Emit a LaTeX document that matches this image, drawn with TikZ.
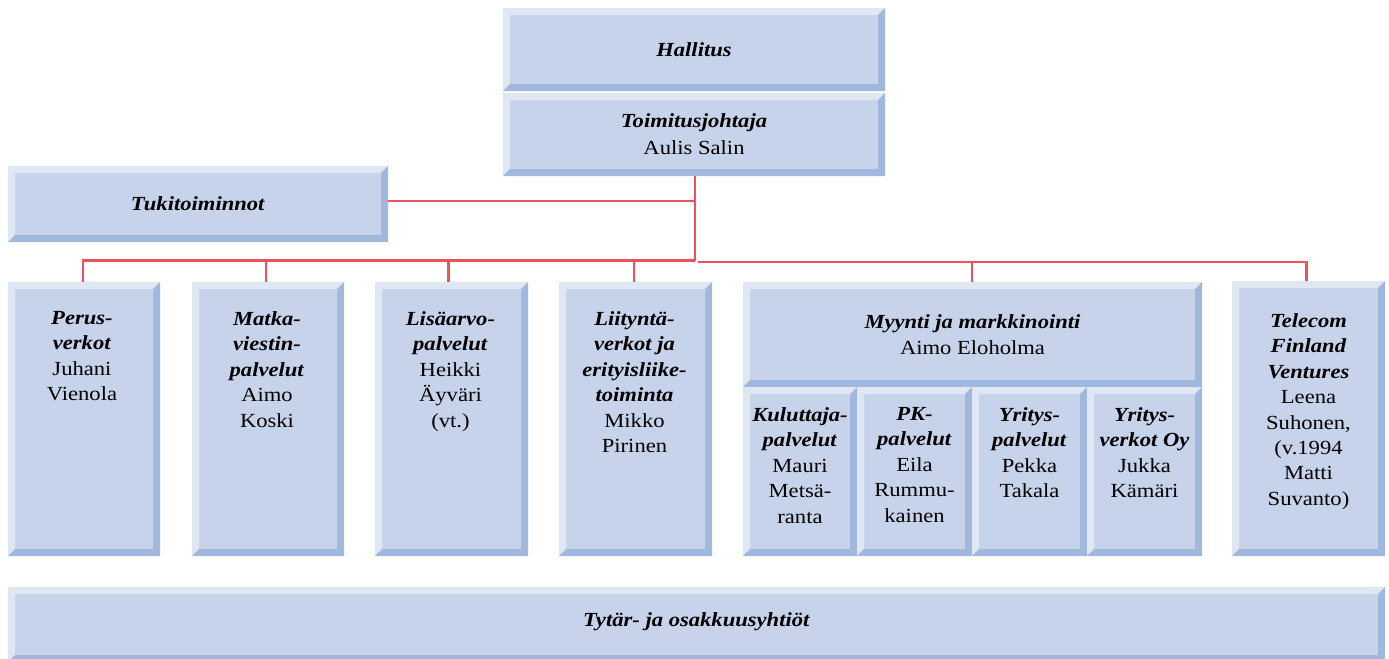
\documentclass[tikz,border=0pt]{standalone}
\usepackage{fontspec}
\setmainfont{Liberation Serif}[FakeStretch=1.13]
\usetikzlibrary{calc}
\definecolor{facec}{RGB}{198,211,234}
\definecolor{lightc}{RGB}{223,231,243}
\definecolor{darkc}{RGB}{160,184,222}
\definecolor{linec}{RGB}{236,82,92}
\newcommand{\bw}{5.25pt}
\newcommand{\bi}[1]{\textbf{\textit{#1}}}
\tikzset{
  bevel/.style 2 args={rectangle, inner sep=0pt, outer sep=0pt, fill=facec, draw=none,
    minimum width=#1*0.75pt, minimum height=#2*0.75pt,
    path picture={
      \path (path picture bounding box.south west) coordinate (bSW)
            (path picture bounding box.north east) coordinate (bNE)
            (path picture bounding box.north west) coordinate (bNW)
            (path picture bounding box.south east) coordinate (bSE);
      \fill[lightc] (bSW) -- (bNW) -- (bNE) -- ($(bNE)+(-\bw,-\bw)$) -- ($(bNW)+(\bw,-\bw)$) -- ($(bSW)+(\bw,\bw)$) -- cycle;
      \fill[darkc] (bSW) -- (bSE) -- (bNE) -- ($(bNE)+(-\bw,-\bw)$) -- ($(bSE)+(-\bw,\bw)$) -- ($(bSW)+(\bw,\bw)$) -- cycle;
    }},
  txt/.style={inner sep=0pt, align=center, font=\fontsize{15pt}{19.1pt}\selectfont},
  toptxt/.style={txt, anchor=north},
  conn/.style={draw=linec, line width=1.6pt},
}
\begin{document}
\begin{tikzpicture}[x=0.75pt, y=-0.75pt]
\useasboundingbox (0,0) rectangle (1389,658);
% boxes
\node[bevel={382}{83}] (hal) at (694,49.5) {};
\node[bevel={382}{83}] (toj) at (694,134.5) {};
\node[bevel={380}{76}] (tuk) at (198,204) {};
\node[bevel={152}{274}] (per) at (84,419) {};
\node[bevel={152}{274}] (mat) at (268,419) {};
\node[bevel={153}{274}] (lis) at (451.5,419) {};
\node[bevel={153}{274}] (lii) at (635.5,419) {};
\node[bevel={459}{105}] (myy) at (972.5,334.5) {};
\node[bevel={114}{169}] (kul) at (800,471.5) {};
\node[bevel={115}{169}] (pk) at (914.5,471.5) {};
\node[bevel={115}{169}] (yrp) at (1029.5,471.5) {};
\node[bevel={115}{169}] (yrv) at (1144.5,471.5) {};
\node[bevel={153}{275}] (tel) at (1308.5,418.5) {};
\node[bevel={1377}{75}] (tyt) at (696.5,624.5) {};
% texts
\node[txt] (halT) at (hal.center) {\bi{Hallitus}};
\node[txt, font=\fontsize{15pt}{20.3pt}\selectfont] (tojT) at (toj.center) {\bi{Toimitusjohtaja}\\Aulis Salin};
\node[txt] (tukT) at (tuk.center) {\bi{Tukitoiminnot}};
\node[toptxt] (perT) at ($(per.north)+(-2,29)$) {\bi{Perus-}\\\bi{verkot}\\Juhani\\Vienola};
\node[toptxt] (matT) at ($(mat.north)+(-1,29)$) {\bi{Matka-}\\\bi{viestin-}\\\bi{palvelut}\\Aimo\\Koski};
\node[toptxt] (lisT) at ($(lis.north)+(-1,29)$) {\bi{Lisäarvo-}\\\bi{palvelut}\\Heikki\\Äyväri\\(vt.)};
\node[toptxt] (liiT) at ($(lii.north)+(-1,29)$) {\bi{Liityntä-}\\\bi{verkot ja}\\\bi{erityisliike-}\\\bi{toiminta}\\Mikko\\Pirinen};
\node[txt] (myyT) at (myy.center) {\bi{Myynti ja markkinointi}\\Aimo Eloholma};
\node[toptxt] (kulT) at ($(kul.north)+(0,20)$) {\bi{Kuluttaja-}\\\bi{palvelut}\\Mauri\\Metsä-\\ranta};
\node[toptxt] (pkT) at ($(pk.north)+(0,20)$) {\bi{PK-}\\\bi{palvelut}\\Eila\\Rummu-\\kainen};
\node[toptxt] (yrpT) at ($(yrp.north)+(0,20)$) {\bi{Yritys-}\\\bi{palvelut}\\Pekka\\Takala};
\node[toptxt] (yrvT) at ($(yrv.north)+(0,20)$) {\bi{Yritys-}\\\bi{verkot Oy}\\Jukka\\Kämäri};
\node[toptxt] (telT) at ($(tel.north)+(0,32)$) {\bi{Telecom}\\\bi{Finland}\\\bi{Ventures}\\Leena\\Suhonen,\\(v.1994\\Matti\\Suvanto)};
\node[txt] (tytT) at (696.5,622) {\bi{Tytär- ja osakkuusyhtiöt}};
% connectors
\coordinate (trunk) at ($(toj.south)+(1,260.5-176)$);
\coordinate (rbus) at ($(toj.south)+(4,262-176)$);
\draw[conn] ($(toj.south)+(1,0)$) -- (trunk);
\draw[conn] (tuk.east |- 0,201) -- ($(toj.south)+(1,201-176)$);
\draw[conn] ($(per.north)+(-1,0)$) -- ($(per.north |- trunk)+(-1,0)$) -- (trunk);
\draw[conn] ($(mat.north)+(-2,0)$) -- ($(mat.north |- trunk)+(-2,0)$);
\draw[conn] ($(lis.north)+(-3,0)$) -- ($(lis.north |- trunk)+(-3,0)$);
\draw[conn] ($(lii.north)+(-1.5,0)$) -- ($(lii.north |- trunk)+(-1.5,0)$);
\draw[conn] (rbus) -- ($(tel.north |- rbus)+(-2,0)$) -- ($(tel.north)+(-2,0)$);
\draw[conn] ($(myy.north)+(-0.5,0)$) -- ($(myy.north |- rbus)+(-0.5,0)$);
\end{tikzpicture}
\end{document}
